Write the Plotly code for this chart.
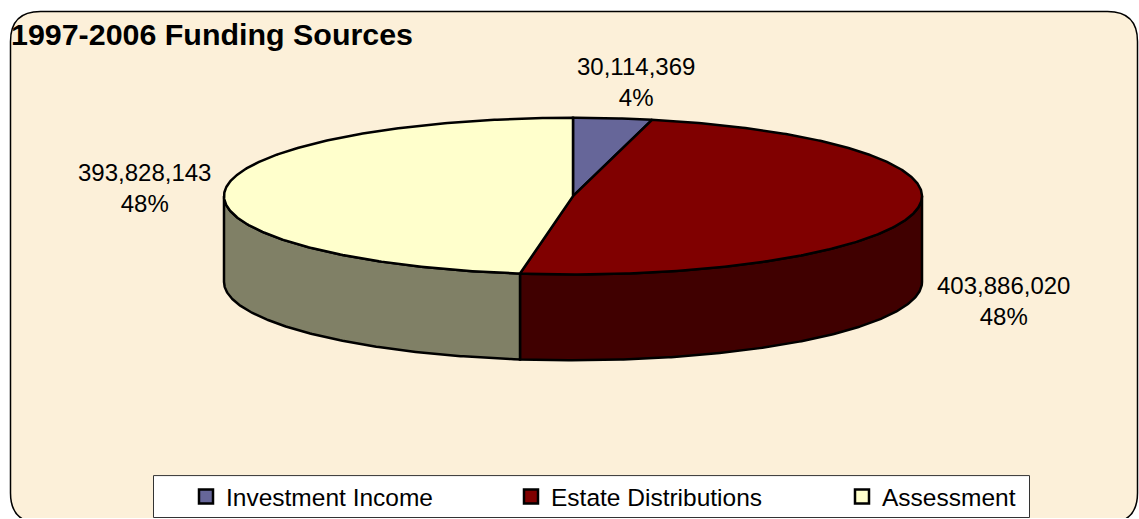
import math
import plotly.graph_objects as go

categories = ["Investment Income", "Estate Distributions", "Assessment"]
values = [30114369, 403886020, 393828143]
percent_labels = ["4%", "48%", "48%"]
top_colors = ["#666699", "#800000", "#FFFFCC"]
side_colors = ["#33334D", "#400000", "#808066"]
label_positions = [(636, 82), (1003, 302), (144, 188)]
legend_positions = [(186, 497), (511, 497), (842, 497)]
FONT = "Liberation Sans, Arial, sans-serif"

W, H = 1139, 519
CX, CY, RX, RY, DEPTH = 573, 196.5, 349, 78.5, 86


def pt(a, dy=0):
    r = math.radians(a)
    return CX + RX * math.sin(r), CY - RY * math.cos(r) + dy


def arc(a, b, dy=0):
    n = max(2, int(abs(b - a) * 2))
    return [pt(a + (b - a) * i / n, dy) for i in range(n + 1)]


total = sum(values)
edges = [0]
for v in values:
    edges.append(edges[-1] + v / total * 360)

fig = go.Figure()

# side walls: only the front half of the disc is visible
for i in range(len(values)):
    a, b = max(edges[i], 90), min(edges[i + 1], 270)
    if b > a:
        poly = arc(a, b) + arc(b, a, DEPTH)
        poly.append(poly[0])
        fig.add_trace(go.Scatter(x=[p[0] for p in poly], y=[p[1] for p in poly], mode="lines",
                                 fill="toself", fillcolor=side_colors[i],
                                 line=dict(color="black", width=2.5), showlegend=False, hoverinfo="skip"))

# top face
for i in range(len(values)):
    poly = [(CX, CY)] + arc(edges[i], edges[i + 1]) + [(CX, CY)]
    fig.add_trace(go.Scatter(x=[p[0] for p in poly], y=[p[1] for p in poly], mode="lines",
                             fill="toself", fillcolor=top_colors[i],
                             line=dict(color="black", width=2.5), showlegend=False,
                             name=categories[i], hoverinfo="name"))

# legend entries, one independent legend each so they sit where the original's do
legend_layout = {}
for i, c in enumerate(categories):
    key = "legend" if i == 0 else f"legend{i + 1}"
    fig.add_trace(go.Scatter(x=[None], y=[None], mode="markers", name=c, legend=key,
                             marker=dict(symbol="square", size=14, color=top_colors[i],
                                         line=dict(color="black", width=2.5))))
    lx, ly = legend_positions[i]
    legend_layout[key] = dict(x=lx / W, y=1 - ly / H, xanchor="left", yanchor="middle",
                              bgcolor="rgba(0,0,0,0)", borderwidth=0,
                              font=dict(family=FONT, size=24.5, color="black"))

annotations = [
    dict(x=label_positions[i][0], y=label_positions[i][1], xref="x", yref="y",
         text=f"{values[i]:,}<br>{percent_labels[i]}", showarrow=False,
         font=dict(family=FONT, size=24, color="black"), align="center")
    for i in range(len(values))
]

R = 30
L, T, RT, B = 10.5, 11.5, 1137.5, 524
frame = (f"M {L + R} {T} L {RT - R} {T} Q {RT} {T} {RT} {T + R} L {RT} {B - R} Q {RT} {B} {RT - R} {B} "
         f"L {L + R} {B} Q {L} {B} {L} {B - R} L {L} {T + R} Q {L} {T} {L + R} {T} Z")

shapes = [
    dict(type="path", path=frame, xref="x", yref="y", fillcolor="#FCF0D9",
         line=dict(color="black", width=1.5), layer="below"),
    dict(type="rect", x0=153.5, x1=1029.5, y0=476.5, y1=518.5, xref="x", yref="y", fillcolor="white",
         line=dict(color="#333333", width=1), layer="below"),
]

fig.update_layout(
    width=W, height=H, margin=dict(l=0, r=0, t=0, b=0),
    paper_bgcolor="white", plot_bgcolor="rgba(0,0,0,0)",
    title=dict(text="<b>1997-2006 Funding Sources</b>", x=11 / W, xanchor="left", xref="paper",
               y=1 - 34 / H, yanchor="middle", yref="paper",
               font=dict(family=FONT, size=30.4, color="black")),
    xaxis=dict(range=[0, W], visible=False, fixedrange=True),
    yaxis=dict(range=[H, 0], visible=False, fixedrange=True),
    shapes=shapes, annotations=annotations, **legend_layout,
)
fig.write_html("out.html", config=dict(displayModeBar=False),
               post_script="document.body.style.margin='0';document.documentElement.style.overflow='hidden';")
